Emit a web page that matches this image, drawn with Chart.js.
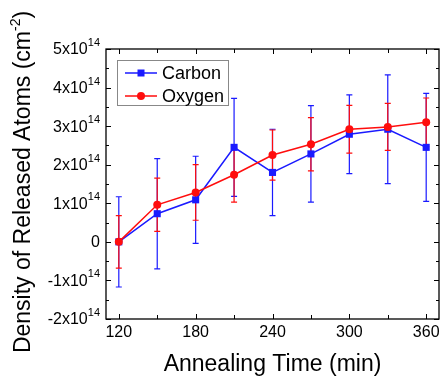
<!DOCTYPE html>
<html>
<head>
<meta charset="utf-8">
<script src="https://cdn.jsdelivr.net/npm/chart.js@4"></script>
<style>
  html, body { margin: 0; padding: 0; background: #fff; }
  #wrap { width: 444px; height: 378px; }
</style>
</head>
<body>
<div id="wrap"><canvas id="chart" width="444" height="378"></canvas></div>
<script>
// Annealing time (min) and released atom densities, in units of 1e14 cm^-2
const times = [120, 150, 180, 210, 240, 270, 300, 330, 360];
const carbon = [0, 0.73, 1.09, 2.45, 1.80, 2.28, 2.79, 2.92, 2.45];
const carbonErr = [1.17, 1.43, 1.13, 1.27, 1.12, 1.25, 1.02, 1.41, 1.40];
const oxygen = [0, 0.96, 1.28, 1.74, 2.25, 2.53, 2.92, 2.98, 3.10];
const oxygenErr = [0.68, 0.69, 0.72, 0.71, 0.65, 0.69, 0.62, 0.61, 0.63];

const xTicks = [120, 180, 240, 300, 360];
const xMinorTicks = [150, 210, 270, 330];
const yTicks = [-2, -1, 0, 1, 2, 3, 4, 5];
const yMinorTicks = [-1.5, -0.5, 0.5, 1.5, 2.5, 3.5, 4.5];

const BLUE = '#1a1aff';
const RED = '#ff0d0d';
const FONT = '"Liberation Sans", Arial, sans-serif';

function toPoints(xs, ys) {
    return xs.map((x, i) => ({ x: x, y: ys[i] }));
}

// Error bars, drawn under the lines
const errorBars = {
    id: 'errorBars',
    beforeDatasetsDraw(chart) {
        const ctx = chart.ctx;
        const xs = chart.scales.x, ys = chart.scales.y;
        const sets = [[carbon, carbonErr, BLUE], [oxygen, oxygenErr, RED]];
        ctx.save();
        ctx.lineWidth = 1.2;
        sets.forEach(([vals, errs, color]) => {
            ctx.strokeStyle = color;
            times.forEach((t, i) => {
                const px = xs.getPixelForValue(t);
                const top = ys.getPixelForValue(vals[i] + errs[i]);
                const bot = ys.getPixelForValue(vals[i] - errs[i]);
                ctx.beginPath();
                ctx.moveTo(px, top); ctx.lineTo(px, bot);
                ctx.moveTo(px - 3, top); ctx.lineTo(px + 3, top);
                ctx.moveTo(px - 3, bot); ctx.lineTo(px + 3, bot);
                ctx.stroke();
            });
        });
        ctx.restore();
    }
};

// Frame, inward ticks, tick labels, axis titles and legend
const axesDecor = {
    id: 'axesDecor',
    afterDraw(chart) {
        const ctx = chart.ctx;
        const a = chart.chartArea;
        const xs = chart.scales.x, ys = chart.scales.y;
        ctx.save();
        ctx.strokeStyle = '#000';
        ctx.lineWidth = 1.3;
        ctx.strokeRect(a.left, a.top, a.right - a.left, a.bottom - a.top);

        ctx.lineWidth = 1;
        ctx.beginPath();
        xTicks.concat(xMinorTicks).forEach(v => {
            const len = xTicks.includes(v) ? 5 : 4;
            const px = Math.round(xs.getPixelForValue(v)) + 0.5;
            ctx.moveTo(px, a.bottom); ctx.lineTo(px, a.bottom - len);
            ctx.moveTo(px, a.top); ctx.lineTo(px, a.top + len);
        });
        yTicks.concat(yMinorTicks).forEach(v => {
            const len = yTicks.includes(v) ? 5 : 3;
            const py = Math.round(ys.getPixelForValue(v)) + 0.5;
            ctx.moveTo(a.left, py); ctx.lineTo(a.left + len, py);
            ctx.moveTo(a.right, py); ctx.lineTo(a.right - len, py);
        });
        ctx.stroke();

        ctx.fillStyle = '#000';
        // x tick labels
        ctx.font = '16px ' + FONT;
        ctx.textAlign = 'center';
        ctx.textBaseline = 'top';
        xTicks.forEach(v => ctx.fillText(String(v), xs.getPixelForValue(v), a.bottom + 6));

        // y tick labels with superscript exponent
        ctx.textBaseline = 'middle';
        yTicks.forEach(v => {
            const py = ys.getPixelForValue(v) + 1;
            const right = a.left - 6;
            if (v === 0) {
                ctx.font = '16px ' + FONT;
                ctx.textAlign = 'right';
                ctx.fillText('0', right, py);
                return;
            }
            ctx.font = '11px ' + FONT;
            const expW = ctx.measureText('14').width;
            ctx.textAlign = 'right';
            ctx.fillText('14', right, py - 7);
            ctx.font = '16px ' + FONT;
            ctx.fillText(v + 'x10', right - expW, py);
        });

        // x axis title
        ctx.font = '23px ' + FONT;
        ctx.textAlign = 'center';
        ctx.textBaseline = 'middle';
        ctx.fillText('Annealing Time (min)', (a.left + a.right) / 2, 365);

        // y axis title, rotated, with cm^-2
        ctx.save();
        ctx.translate(24, (a.top + a.bottom) / 2 - 2);
        ctx.rotate(-Math.PI / 2);
        const main = 'Density of Released Atoms (cm';
        ctx.font = '23px ' + FONT;
        const w1 = ctx.measureText(main).width;
        ctx.font = '14px ' + FONT;
        const w2 = ctx.measureText('-2').width;
        ctx.font = '23px ' + FONT;
        const w3 = ctx.measureText(')').width;
        let x0 = -(w1 + w2 + w3) / 2;
        ctx.textAlign = 'left';
        ctx.fillText(main, x0, 0);
        ctx.font = '14px ' + FONT;
        ctx.fillText('-2', x0 + w1, -8);
        ctx.font = '23px ' + FONT;
        ctx.fillText(')', x0 + w1 + w2, 0);
        ctx.restore();

        // legend box inside the plot
        const lx = 117, ly = 60, lw = 111, lh = 45;
        ctx.fillStyle = '#fff';
        ctx.fillRect(lx, ly, lw, lh);
        ctx.strokeStyle = '#888';
        ctx.lineWidth = 1;
        ctx.strokeRect(lx + 0.5, ly + 0.5, lw, lh);
        const rows = [['Carbon', BLUE, 'rect', 73], ['Oxygen', RED, 'circle', 96]];
        rows.forEach(([label, color, shape, y]) => {
            ctx.strokeStyle = color;
            ctx.fillStyle = color;
            ctx.lineWidth = 1.5;
            ctx.beginPath();
            ctx.moveTo(125, y); ctx.lineTo(157, y);
            ctx.stroke();
            if (shape === 'rect') {
                ctx.fillRect(141 - 3.5, y - 3.5, 7, 7);
            } else {
                ctx.beginPath();
                ctx.arc(141, y, 4, 0, Math.PI * 2);
                ctx.fill();
            }
            ctx.fillStyle = '#000';
            ctx.font = '18px ' + FONT;
            ctx.textAlign = 'left';
            ctx.textBaseline = 'middle';
            ctx.fillText(label, 162, y + 1);
        });
        ctx.restore();
    }
};

new Chart(document.getElementById('chart').getContext('2d'), {
    type: 'line',
    data: {
        datasets: [
            {
                label: 'Oxygen',
                data: toPoints(times, oxygen),
                borderColor: RED,
                backgroundColor: RED,
                borderWidth: 1.5,
                pointStyle: 'circle',
                pointRadius: 4,
                pointBorderWidth: 0,
                tension: 0
            },
            {
                label: 'Carbon',
                data: toPoints(times, carbon),
                borderColor: BLUE,
                backgroundColor: BLUE,
                borderWidth: 1.5,
                pointStyle: 'rect',
                pointRadius: 5,
                pointBorderWidth: 0,
                tension: 0
            }
        ]
    },
    options: {
        responsive: false,
        animation: false,
        layout: {
            padding: { left: 106, top: 49, right: 4, bottom: 59 }
        },
        scales: {
            x: { type: 'linear', min: 110, max: 370, display: false },
            y: { type: 'linear', min: -2, max: 5, display: false }
        },
        plugins: {
            legend: { display: false },
            tooltip: { enabled: false }
        }
    },
    plugins: [errorBars, axesDecor]
});
</script>
</body>
</html>
